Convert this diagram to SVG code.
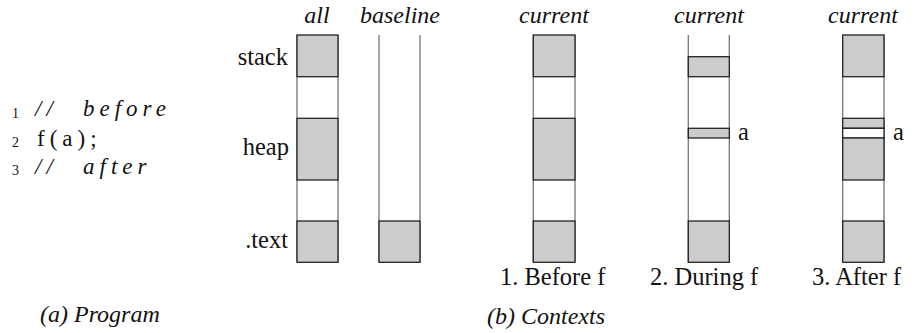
<svg xmlns="http://www.w3.org/2000/svg" width="918" height="333" viewBox="0 0 918 333" font-family="'Liberation Serif', 'DejaVu Serif', serif">
<style>
text{fill:#111}
.lbl{font-size:24.5px}
.it{font-style:italic;font-size:24px}
.code{font-size:23px;letter-spacing:5px}
.num{font-size:14px}
.g{fill:#cccccc;stroke:#222;stroke-width:1.3}
.w{fill:#ffffff;stroke:#222;stroke-width:1.3}
.side{stroke:#777;stroke-width:1.3;fill:none}
</style>
<rect width="918" height="333" fill="#fff"/>
<g id="program" font-family="Liberation Serif">
<text class="num" x="12" y="118">1</text>
<text class="code" x="35" y="116" font-style="italic">//</text>
<text class="code" x="83" y="116" font-style="italic">before</text>
<text class="num" x="12" y="147">2</text>
<text class="code" x="37" y="146">f(a);</text>
<text class="num" x="12" y="175">3</text>
<text class="code" x="35" y="174" font-style="italic">//</text>
<text class="code" x="83" y="174" font-style="italic">after</text>
<text class="it" x="40" y="322">(a) Program</text>
</g>
<g id="row-labels" font-family="Liberation Serif">
<text class="lbl" x="288" y="65" text-anchor="end">stack</text>
<text class="lbl" x="289" y="155" text-anchor="end">heap</text>
<text class="lbl" x="288" y="248" text-anchor="end">.text</text>
</g>
<g id="col-all" font-family="Liberation Serif">
<text class="it" x="317" y="23" text-anchor="middle">all</text>
<line class="side" x1="297" y1="35" x2="297" y2="262"/>
<line class="side" x1="338" y1="35" x2="338" y2="262"/>
<rect class="g" x="297" y="35" width="41" height="41.7"/>
<rect class="g" x="297" y="118.3" width="41" height="61.7"/>
<rect class="g" x="297" y="221" width="41" height="41.3"/>
</g>
<g id="col-baseline" font-family="Liberation Serif">
<text class="it" x="400" y="23" text-anchor="middle">baseline</text>
<line class="side" x1="379" y1="35" x2="379" y2="262"/>
<line class="side" x1="420" y1="35" x2="420" y2="262"/>
<rect class="g" x="379" y="221" width="41" height="41.3"/>
</g>
<g id="col-before" font-family="Liberation Serif">
<text class="it" x="554" y="23" text-anchor="middle">current</text>
<line class="side" x1="533.3" y1="35" x2="533.3" y2="262"/>
<line class="side" x1="575" y1="35" x2="575" y2="262"/>
<rect class="g" x="533.3" y="35" width="41.7" height="41.7"/>
<rect class="g" x="533.3" y="118.3" width="41.7" height="61.7"/>
<rect class="g" x="533.3" y="221" width="41.7" height="41.3"/>
<text class="lbl" x="500" y="285">1.  Before f</text>
</g>
<g id="col-during" font-family="Liberation Serif">
<text class="it" x="709" y="23" text-anchor="middle">current</text>
<line class="side" x1="688.3" y1="35" x2="688.3" y2="262" stroke="#333"/>
<line class="side" x1="729.3" y1="35" x2="729.3" y2="262" stroke="#333"/>
<rect class="g" x="688.3" y="56.7" width="41" height="20"/>
<rect class="g" x="688.3" y="128.3" width="41" height="9.7"/>
<rect class="g" x="688.3" y="221" width="41" height="41.3"/>
<text class="lbl" x="738" y="140">a</text>
<text class="lbl" x="650" y="285">2.  During f</text>
</g>
<g id="col-after" font-family="Liberation Serif">
<text class="it" x="863" y="23" text-anchor="middle">current</text>
<line class="side" x1="842.7" y1="35" x2="842.7" y2="262"/>
<line class="side" x1="884" y1="35" x2="884" y2="262"/>
<rect class="g" x="842.7" y="35" width="41.3" height="41.7"/>
<rect class="g" x="842.7" y="118.3" width="41.3" height="10"/>
<rect class="w" x="842.7" y="128.3" width="41.3" height="9.7"/>
<rect class="g" x="842.7" y="138" width="41.3" height="42"/>
<rect class="g" x="842.7" y="221" width="41.3" height="41.3"/>
<text class="lbl" x="893" y="140">a</text>
<text class="lbl" x="812" y="285">3.  After f</text>
</g>
<g id="connectors"></g>
<text class="it" x="487" y="324" font-family="Liberation Serif">(b) Contexts</text>
</svg>
